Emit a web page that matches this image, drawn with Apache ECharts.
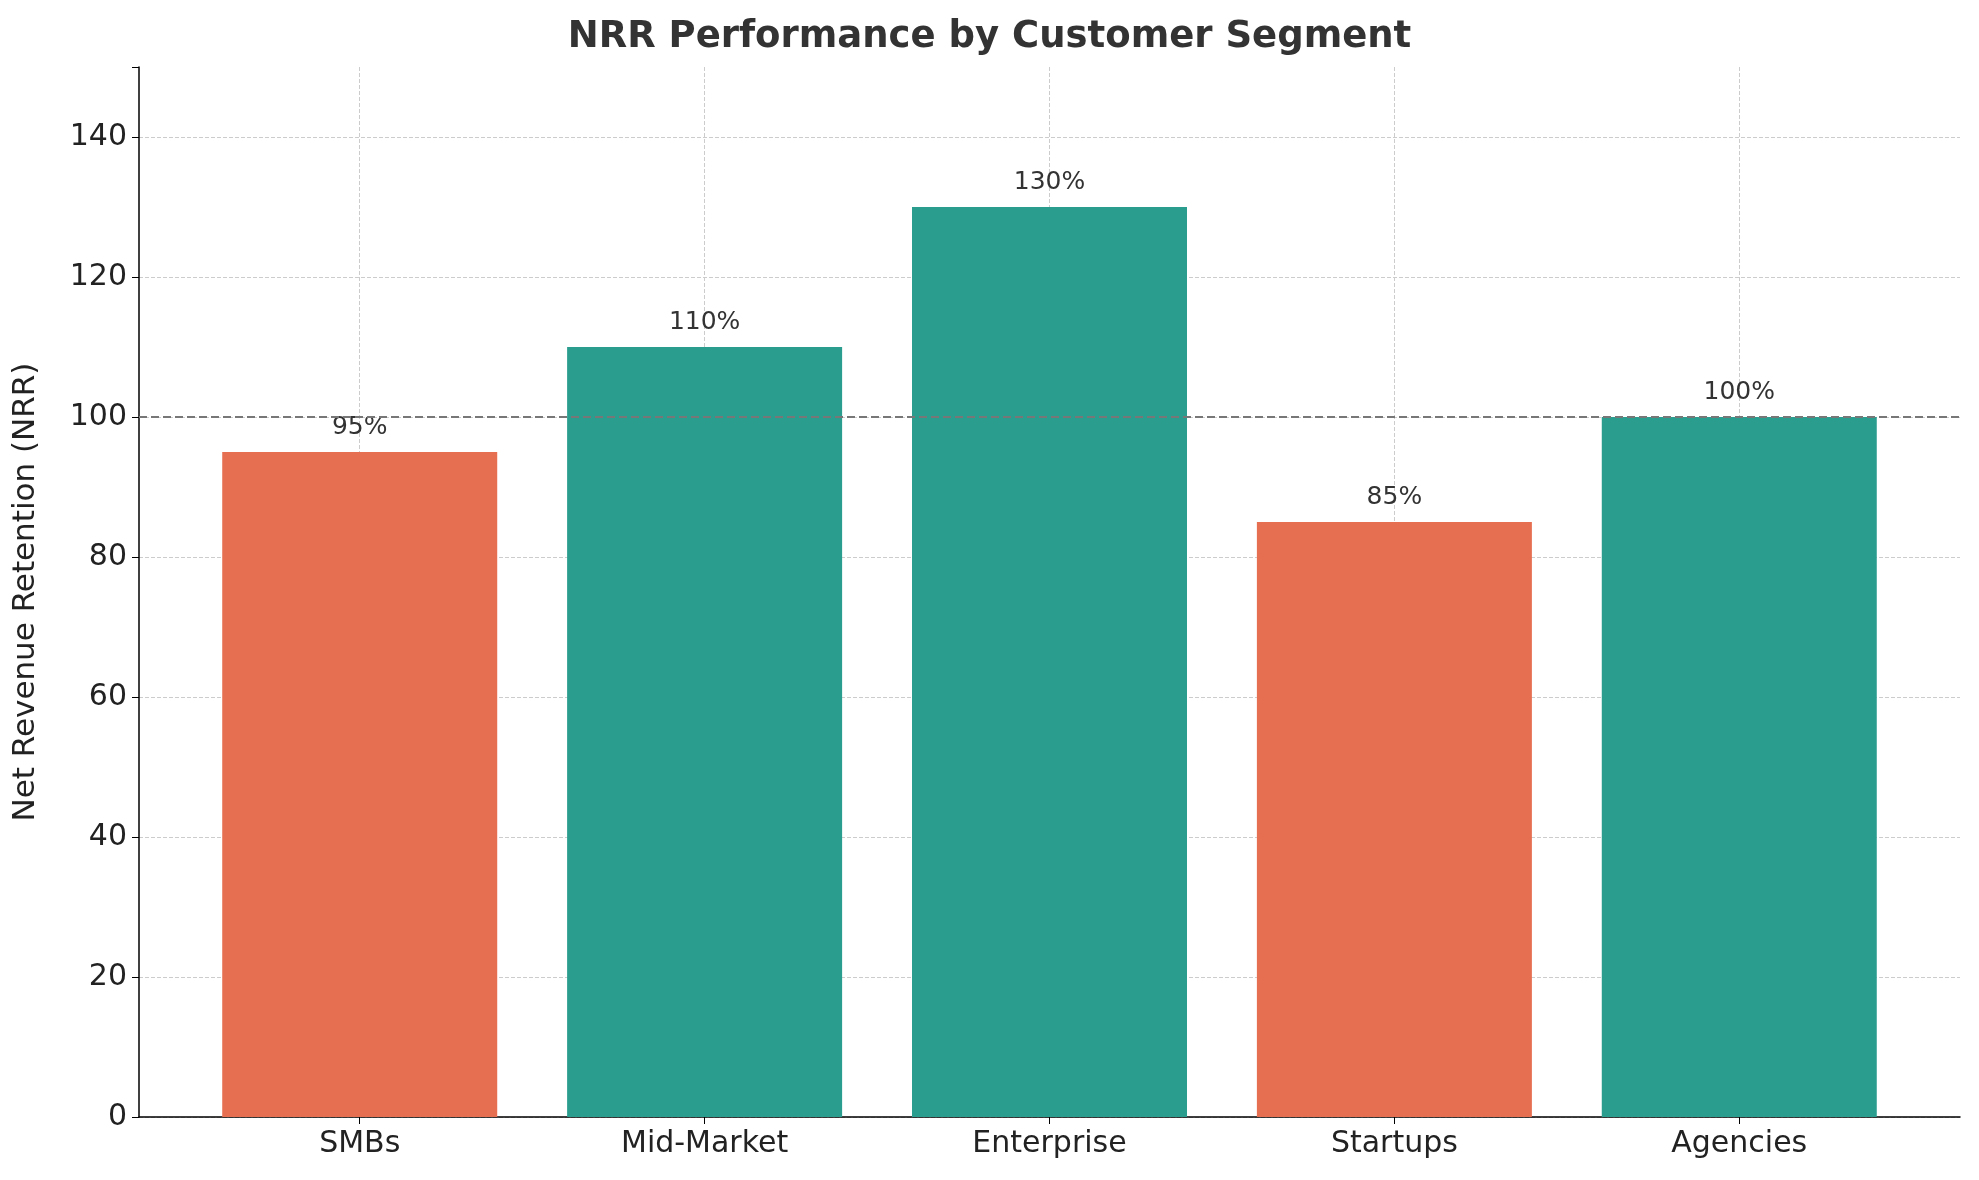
<!DOCTYPE html><html><head><meta charset="utf-8"><script src="https://cdn.jsdelivr.net/npm/echarts@6/dist/echarts.min.js"></script>
<style>html,body{margin:0;background:#fff}#c{width:1979px;height:1180px}</style></head><body><div id="c"></div><script>
const categories=['SMBs','Mid-Market','Enterprise','Startups','Agencies'];
const values=[95,110,130,85,100];
const colors=['#E76F51','#2A9D8F','#2A9D8F','#E76F51','#2A9D8F'];
const yTicks=[0,20,40,60,80,100,120,140];
const threshold=100;
const F='DejaVu Sans';
const chart=echarts.init(document.getElementById('c'));
chart.setOption({
 animation:false,
 title:{text:'NRR Performance by Customer Segment',left:'center',top:14,textStyle:{fontFamily:F,fontSize:37,fontWeight:'bold',color:'#333'}},
 grid:{left:139,right:19,top:67,bottom:63},
 xAxis:{type:'value',min:-0.64,max:4.64,
  axisLine:{onZero:false,lineStyle:{color:'#000',width:1.5}},
  axisTick:{customValues:[0,1,2,3,4],length:7,lineStyle:{color:'#000'}},
  axisLabel:{customValues:[0,1,2,3,4],formatter:v=>categories[Math.round(v)],fontFamily:F,fontSize:30,color:'#222',margin:12},
  splitLine:{show:true,lineStyle:{type:'dashed',color:'#ccc'}}},
 yAxis:{type:'value',min:0,max:150,interval:20,name:'Net Revenue Retention (NRR)',nameLocation:'middle',nameGap:98,
  nameTextStyle:{fontFamily:F,fontSize:31,color:'#222'},
  axisLine:{show:true,onZero:false,lineStyle:{color:'#000',width:1.5}},axisTick:{show:true,length:7,lineStyle:{color:'#000'}},
  axisLabel:{fontFamily:F,fontSize:30,color:'#222',margin:12,formatter:v=>yTicks.includes(v)?v:''},
  splitLine:{showMaxLine:false,lineStyle:{type:'dashed',color:'#ccc'}}},
 series:[{type:'bar',barWidth:275,z:1,
  data:values.map((v,i)=>({value:[i,v],itemStyle:{color:colors[i]}})),
  label:{show:true,position:'top',distance:12,formatter:p=>p.value[1]+'%',fontFamily:F,fontSize:25,color:'#333'},
  markLine:{symbol:'none',silent:true,label:{show:false},lineStyle:{type:'dashed',color:'#777',width:2},data:[{yAxis:threshold}]}}]
});
</script></body></html>
